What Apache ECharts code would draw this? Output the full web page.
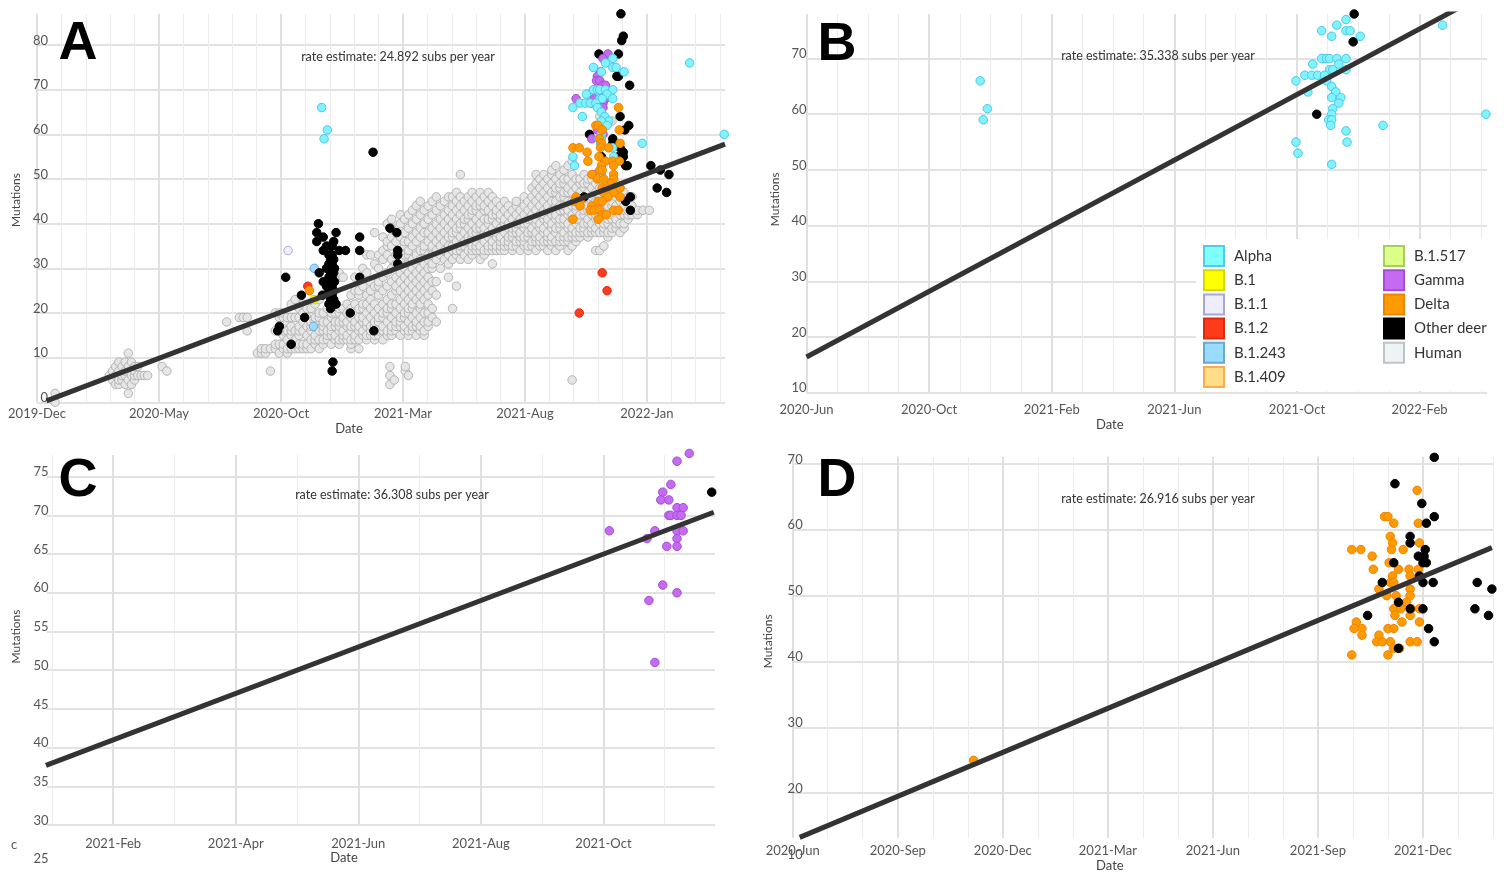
<!DOCTYPE html>
<html><head><meta charset="utf-8">
<script src="https://cdn.jsdelivr.net/npm/echarts@6.0.0/dist/echarts.min.js"></script>
<style>html,body{margin:0;padding:0;background:#fff}#c{width:1504px;height:876px}</style>
</head><body><div id="c"></div>
<script>
// ---------------- DATA ----------------
const MONTHS = ['Jan','Feb','Mar','Apr','May','Jun','Jul','Aug','Sep','Oct','Nov','Dec'];
const legendCol1 = ['Alpha','B.1','B.1.1','B.1.2','B.1.243','B.1.409'];
const legendCol2 = ['B.1.517','Gamma','Delta','Other deer','Human'];
const rateEstimates = ['24.892','35.338','36.308','26.916'];
const panelLetters = ['A','B','C','D'];

// Alpha lineage (panels A and B)
const alpha = [["2020-11-21",66],["2020-11-28",61],["2020-11-24",59],
["2021-11-19",77],["2021-11-10",76],["2021-10-26",75],["2021-11-19",75],["2021-11-23",75],["2021-11-05",74],["2021-12-03",74],
["2021-10-27",70],["2021-10-26",70],["2021-10-31",70],["2021-11-03",70],["2021-11-10",70],["2021-11-19",70],
["2021-11-12",69],["2021-10-17",69],["2021-11-03",68],["2021-11-06",68],["2021-11-19",68],
["2021-10-09",67],["2021-10-16",67],["2021-10-22",67],["2021-10-29",67],["2021-09-30",66],["2021-10-31",66],
["2021-10-12",64],["2021-11-05",65],["2021-11-09",64],["2021-11-14",63],["2021-11-05",63],["2021-11-12",62],["2021-11-06",61],
["2021-11-05",60],["2021-11-04",59],["2021-11-02",59],["2021-11-05",59],["2021-11-04",58],["2021-11-19",57],["2021-12-26",58],
["2021-09-30",55],["2021-11-20",55],["2021-10-02",53],["2021-11-05",51],["2022-02-22",76],["2022-04-06",60]];

// Gamma lineage (panels A and C)
const gamma = [["2021-11-13",78],["2021-11-07",77],["2021-11-04",74],["2021-10-31",73],["2021-10-30",72],["2021-11-03",72],
["2021-11-07",71],["2021-11-10",71],["2021-11-03",70],["2021-11-04",70],["2021-11-07",70],["2021-11-09",70],
["2021-10-04",68],["2021-10-27",68],["2021-11-07",68],["2021-11-10",68],["2021-10-23",67],["2021-11-07",67],
["2021-11-02",66],["2021-11-07",66],["2021-10-31",61],["2021-11-07",60],["2021-10-24",59],["2021-10-27",51]];

// Delta lineage (panels A and D)
const delta = [["2020-11-06",25],["2021-11-26",66],["2021-10-29",62],["2021-11-01",62],["2021-11-06",61],["2021-11-27",61],
["2021-11-03",59],["2021-11-05",58],["2021-11-28",58],["2021-09-30",57],["2021-10-08",57],["2021-11-04",57],["2021-11-14",57],
["2021-10-18",56],["2021-11-02",55],["2021-10-19",54],["2021-11-10",54],["2021-11-19",54],["2021-11-27",54],
["2021-11-05",53],["2021-11-20",53],["2021-11-03",52],["2021-11-06",52],["2021-10-24",51],["2021-11-20",51],
["2021-10-31",50],["2021-11-08",50],["2021-11-20",50],["2021-11-17",49],
["2021-11-06",48],["2021-11-12",48],["2021-11-21",48],["2021-11-28",48],["2021-11-07",47],["2021-11-20",47],
["2021-10-04",46],["2021-11-13",46],["2021-11-28",46],["2021-10-02",45],["2021-10-09",45],["2021-11-01",45],["2021-11-06",45],
["2021-10-09",44],["2021-10-24",44],["2021-10-22",43],["2021-10-27",43],["2021-11-03",43],["2021-11-20",43],["2021-11-26",43],
["2021-11-06",42],["2021-11-11",42],["2021-09-30",41],["2021-11-01",41]];

// Other deer, per panel
const otherDeerA = [["2020-09-27",16],["2020-09-29",17],["2020-10-07",28],["2020-10-14",13],["2020-10-27",24],["2020-10-31",19],
["2020-11-15",38],["2020-11-15",36],["2020-11-17",40],["2020-11-18",29],["2020-11-22",24],["2020-11-23",37],["2020-11-23",34],["2020-11-23",27],
["2020-11-27",26],["2020-11-27",30],["2020-11-27",35],["2020-11-30",22],["2020-11-30",25],["2020-11-30",28],["2020-11-30",31],["2020-11-30",33],
["2020-12-02",21],["2020-12-02",23],["2020-12-02",26],["2020-12-02",27],["2020-12-02",29],["2020-12-02",30],["2020-12-02",32],["2020-12-02",35],
["2020-12-04",24],["2020-12-04",26],["2020-12-04",28],["2020-12-04",31],["2020-12-04",33],["2020-12-04",35],["2020-12-04",7],["2020-12-05",9],
["2020-12-06",23],["2020-12-06",25],["2020-12-06",29],["2020-12-06",32],["2020-12-06",36],["2020-12-07",22],["2020-12-07",27],["2020-12-07",30],
["2020-12-09",38],["2020-12-09",22],["2020-12-13",34],["2020-12-21",34],["2020-12-27",20],
["2021-01-08",37],["2021-01-08",34],["2021-01-08",28],["2021-01-25",56],["2021-01-26",16],
["2021-02-14",39],["2021-02-22",38],["2021-02-23",34],["2021-02-23",33],["2021-02-23",31],
["2021-11-29",87],["2021-12-02",82],["2021-11-30",81],["2021-11-02",78],["2021-11-26",78],["2021-11-24",73],["2021-11-26",73],
["2021-12-10",71],["2021-11-05",67],["2021-11-28",64],["2021-12-09",62],["2021-12-04",61],["2021-10-21",60],["2021-11-19",59],
["2021-11-19",58],["2021-11-28",57],["2021-12-02",56],["2021-11-05",55],["2021-11-26",55],["2021-12-02",55],["2021-12-05",53],
["2021-12-07",53],["2022-01-06",53],["2022-01-29",51],["2022-01-18",52],["2022-01-14",48],["2022-01-26",47],["2021-12-11",46],
["2021-12-05",45],["2021-12-11",43],["2021-10-14",46]];
const otherDeerB = [["2021-11-27",78],["2021-11-26",73],["2021-10-21",60]];
const otherDeerC = [["2021-11-24",73]];
const otherDeerD = [["2021-12-11",71],["2021-11-07",67],["2021-11-30",64],["2021-12-11",62],["2021-12-04",61],["2021-11-20",59],
["2021-11-20",58],["2021-12-03",57],["2021-11-27",56],["2021-12-02",56],["2021-12-01",55],["2021-12-04",55],["2021-11-06",55],
["2021-11-28",53],["2021-10-27",52],["2021-12-01",52],["2021-12-10",52],["2021-11-10",49],["2021-11-20",48],["2021-12-01",48],
["2021-10-14",47],["2021-12-06",45],["2021-12-11",43],["2021-11-10",42],["2022-01-18",52],["2022-01-31",51],["2022-01-16",48],["2022-01-28",47]];

// Minor lineages (panel A)
const lineageB1 = [["2020-11-12",23]];
const lineageB11 = [["2020-10-10",34]];
const lineageB12 = [["2020-11-04",26],["2021-10-08",20],["2021-11-06",29],["2021-11-12",25]];
const lineageB1243 = [["2020-11-11",17],["2020-11-12",30]];
const lineageB1409 = [];
const lineageB1517 = [];

// Human genomes (panel A): [date, [mutation counts]]
const human = [
["2019-12-24",[0,2]],["2020-02-29",[6]],["2020-03-04",[5,7]],["2020-03-08",[4,6,8]],["2020-03-12",[4,5,7,9]],
["2020-03-16",[5,6,8]],["2020-03-20",[4,6,7,9]],["2020-03-24",[2,5,8,11]],["2020-03-28",[4,6,9]],["2020-04-01",[5,6,7,8]],
["2020-04-05",[6,8]],["2020-04-09",[6]],["2020-04-13",[6]],["2020-04-17",[6]],["2020-05-05",[8]],["2020-05-11",[7]],
["2020-07-25",[18]],["2020-08-10",[19]],["2020-08-15",[19]],["2020-08-20",[16,19]],
["2020-09-02",[11]],["2020-09-07",[11,12]],["2020-09-12",[11,12]],["2020-09-18",[7,12]],["2020-09-24",[12,13,16,20]],
["2020-09-29",[11,13,16,19,20]],["2020-10-04",[12,13,15,16,19,20]],["2020-10-09",[11,12,14,16,18,19]],
["2020-10-14",[12,13,15,16,17,19,22]],["2020-10-19",[12,13,14,16,19,23]],["2020-10-24",[12,13,15,16,17,19,21]],
["2020-10-29",[12,13,16,18,20,22]],["2020-11-03",[12,13,15,17,19,21]],["2020-11-08",[12,14,16,17,18,21]],
["2020-11-13",[13,14,15,17,18,19,22]],["2020-11-18",[12,14,16,19,20,23]],["2020-11-23",[13,14,16,17,18,20]],
["2020-11-28",[14,15,16,18,21]],["2020-12-03",[13,15,16,17,19,20,22]],["2020-12-08",[14,15,17,18,20,29]],
["2020-12-13",[13,14,16,17,18,20,21,28,29]],["2020-12-18",[14,15,16,18,19,21,28]],["2020-12-23",[14,15,17,18,20,22]],
["2020-12-28",[12,13,14,16,17,19,21,24]],["2021-01-02",[14,15,17,18,20,22,25,28]],["2021-01-07",[12,14,16,17,19,21,24,25]],
["2021-01-12",[15,16,18,19,21,22,26,30]],["2021-01-17",[14,15,17,18,20,22,24,29,33]],["2021-01-22",[15,16,17,19,21,23,25,27,33]],
["2021-01-27",[14,15,17,18,20,22,26,31,38]],["2021-02-01",[15,16,18,19,21,24,26,27,30,33]],
["2021-02-06",[14,16,17,19,20,22,25,28,32,34,37]],["2021-02-11",[15,16,18,20,21,23,26,29,33,35,36,40]],["2021-02-14",[4,6,8]],
["2021-02-16",[15,16,17,19,21,22,24,27,30,32,35,37,39,41]],["2021-02-19",[5]],["2021-02-21",[16,17,18,20,22,25,26,28,31,33,36,38]],
["2021-02-26",[15,17,18,19,21,23,25,27,29,32,34,37,40,42]],["2021-03-03",[16,17,19,20,22,24,26,28,30,33,35,36,38,41]],
["2021-03-04",[7,8]],["2021-03-08",[6,15,16,18,20,21,23,25,27,29,31,33,34,36,39,42]],
["2021-03-13",[16,17,19,21,22,24,26,28,30,32,35,37,40,43]],["2021-03-18",[15,17,18,20,23,25,27,29,31,33,36,38,41,44]],
["2021-03-23",[16,17,19,21,22,24,26,28,30,32,34,37,39,42,45]],["2021-03-28",[15,16,18,20,23,25,27,29,31,34,35,38,40,43]],
["2021-04-02",[17,18,20,22,24,26,28,30,32,33,36,38,41,44]],["2021-04-07",[19,21,25,27,30,31,33,35,37,39,42,45]],
["2021-04-12",[18,24,27,32,34,36,38,40,43,46]],["2021-04-17",[30,33,35,37,39,41,44]],["2021-04-22",[32,34,36,38,40,42,45]],
["2021-04-27",[28,31,33,35,37,39,41,43,46]],["2021-05-02",[21,32,34,35,37,38,40,42,44,46]],["2021-05-07",[26,33,34,36,38,39,41,43,45,47]],
["2021-05-12",[32,34,35,37,39,40,42,44,46,51]],["2021-05-17",[33,35,36,38,40,41,43,45]],["2021-05-22",[32,34,36,37,39,41,42,44,46]],
["2021-05-27",[33,34,35,37,38,40,42,43,45,47]],["2021-06-01",[34,35,36,38,39,41,43,44,46]],["2021-06-06",[32,34,35,37,39,40,42,44,45,47]],
["2021-06-11",[33,34,36,38,39,41,43,44,46]],["2021-06-16",[34,35,37,38,40,41,43,45,47]],["2021-06-21",[31,34,35,36,38,39,41,42,44,46]],
["2021-06-26",[34,35,37,38,40,42,43,45]],["2021-07-01",[34,35,36,37,39,41,42,44]],["2021-07-06",[34,35,36,38,40,41,43,45]],
["2021-07-11",[35,36,37,39,40,42,44]],["2021-07-16",[34,35,37,38,39,41,43]],["2021-07-21",[35,36,38,39,40,42,44,45]],
["2021-07-26",[34,36,37,38,40,41,43]],["2021-07-31",[35,36,37,39,40,42,44,46]],["2021-08-05",[34,35,37,38,40,41,43,45]],
["2021-08-10",[35,36,38,39,41,42,44,46,48]],["2021-08-15",[34,36,37,38,40,41,43,45,47,49,51]],["2021-08-20",[35,36,37,39,40,42,44,46,48,50]],
["2021-08-25",[35,36,38,39,41,42,43,45,47,49,51]],["2021-08-30",[34,36,37,38,40,41,43,44,46,48,50]],
["2021-09-04",[35,36,37,39,40,42,43,45,47,49,51,52]],["2021-09-09",[34,36,38,39,41,42,44,45,47,48,50,53]],
["2021-09-14",[35,36,37,39,40,41,43,44,46,48,49,51]],["2021-09-19",[36,37,38,40,41,43,44,46,47,49,50,52]],
["2021-09-24",[34,36,37,39,40,42,43,45,47,48,50,53]],["2021-09-29",[5,35,37,38,39,41,42,44,45,47,49,51,54]],
["2021-10-04",[36,37,38,40,41,43,44,46,48,50]],["2021-10-09",[37,38,39,41,42,44,45,47,49,50]],
["2021-10-14",[38,39,40,42,43,45,46,48,49,51]],["2021-10-19",[37,38,40,41,43,44,46,47,49,50,69]],
["2021-10-24",[38,39,40,42,43,45,46,48,50]],["2021-10-29",[34,38,39,41,42,44,45,47,49]],
["2021-11-03",[34,38,40,41,43,44,46,48,50,64]],["2021-11-08",[35,38,39,40,42,43,45,47,48]],
["2021-11-13",[37,38,40,41,43,44,46,47,49]],["2021-11-18",[38,39,41,42,44,45,47,63]],["2021-11-23",[39,40,41,43,44,46,47,49]],
["2021-11-28",[38,40,42,43,45,46,48]],["2021-12-03",[39,40,42,43,44,46,47]],["2021-12-08",[41,42,43,45,46]],
["2021-12-13",[42,43,44,46]],["2021-12-20",[42,43]],["2021-12-27",[43]],["2022-01-04",[43]]];

// Fitted regression lines (end points)
const fitA = [["2019-12-13",0.3],["2022-04-07",57.8]];
const fitB = [["2020-06-01",16.4],["2022-04-07",81.8]];
const fitC = [["2020-12-29",37.7],["2021-11-25",70.4]];
const fitD = [["2020-06-07",13.3],["2022-01-31",57.3]];

// ---------------- STYLE / LAYOUT ----------------
const STY = {
  'Alpha':{c:'#7ff4ff',b:'#4fc6ea'}, 'B.1':{c:'#ffff00',b:'#d6d600'}, 'B.1.1':{c:'#eeeeff',b:'#a8a8d8'},
  'B.1.2':{c:'#ff3b1e',b:'#e02a10'}, 'B.1.243':{c:'#99dcff',b:'#6aa8d4'}, 'B.1.409':{c:'#ffde88',b:'#ffaa50'},
  'B.1.517':{c:'#ddff88',b:'#a8cc60'}, 'Gamma':{c:'#c66af2',b:'#a24fd4'}, 'Delta':{c:'#ff9a00',b:'#ee8400'},
  'Other deer':{c:'#000000',b:'#000000'}, 'Human':{c:'#e6e6e6',b:'#b4b4b4'}
};
const LEG = Object.assign({}, STY, {'Human':{c:'#eef3f6',b:'#c0c4c8'}, 'Alpha':{c:'#80ffff',b:'#55c8f0'}});

const panels = [
  {o:[2019,12], left:37, top:13.8, width:688, height:388.5, xr:[0,28.2], yr:[0,87], yi:10, lab:5, ylm:-11, xlm:5.2, xng:20.2, yng:14.8, dpad:64, mpad:16,
   sets:[['Human',null],['B.1.1',lineageB11],['B.1.243',lineageB1243],['B.1',lineageB1],['B.1.2',lineageB12],['B.1.409',lineageB1409],['B.1.517',lineageB1517],
         ['Other deer',otherDeerA],['Gamma',gamma],['Alpha',alpha],['Delta',delta]], fit:fitA, letter:[78,44], rate:[398,57]},
  {o:[2020,6], left:806.5, top:14, width:680.5, height:378.7, xr:[0,22.2], yr:[10,78], yi:10, lab:4, ylm:0, xlm:10.5, xng:25.5, yng:25.2, dpad:74, mpad:8,
   sets:[['Alpha',alpha],['Other deer',otherDeerB]], fit:fitB, letter:[837,45], rate:[1158,56]},
  {o:[2021,2], left:47, top:455, width:668, height:370, xr:[-1.08,9.82], yr:[30,77.8], yi:5, lab:2, ylm:-1.6, xlm:12.5, xng:26.8, yng:24.8, dpad:74, mpad:7,
   sets:[['Gamma',gamma],['Other deer',otherDeerC]], fit:fitC, letter:[78,481], rate:[392,495]},
  {o:[2020,6], left:792.7, top:456.7, width:700.3, height:381.3, xr:[0,20], yr:[13.2,71.1], yi:10, lab:3, ylm:-10, xlm:6.8, xng:21.2, yng:18.7, dpad:66, mpad:12,
   sets:[['Delta',delta],['Other deer',otherDeerD]], fit:fitD, letter:[837,481], rate:[1158,499]}
];

function toM(s, o){ const p = s.split('-').map(Number); const dim = new Date(p[0], p[1], 0).getDate(); return (p[0]-o[0])*12 + (p[1]-o[1]) + (p[2]-1)/dim; }
function isMult(v, k){ const r = v/k; return Math.abs(r - Math.round(r)) < 1e-6; }
function monLabel(o, v){ const t = o[0]*12 + (o[1]-1) + Math.round(v); const y = Math.floor(t/12); return y + '-' + MONTHS[t - y*12]; }

const grids=[], xAxes=[], yAxes=[], series=[];
const labelColor = '#555';
const yLabelBase = {color:labelColor, fontSize:13, fontFamily:'Lato', verticalAlign:'bottom', lineHeight:9};
panels.forEach((p, i) => {
  const g = grids.length;
  grids.push({left:p.left, top:p.top, width:p.width, height:p.height, containLabel:false});
  const xi = xAxes.length;
  xAxes.push({type:'value', gridIndex:g, position:'bottom', min:p.xr[0], max:p.xr[1], minInterval:1, maxInterval:1,
    axisLine:{show:false}, axisTick:{show:false},
    splitLine:{show:true, showMinLine:isMult(p.xr[0],1), showMaxLine:isMult(p.xr[1],1), lineStyle:{color:'#ececec', width:1}},
    axisLabel:{margin:p.xlm, color:labelColor, fontSize:13, fontFamily:'Lato',
      formatter:v => (isMult(v,1) && isMult(Math.round(v), p.lab)) ? monLabel(p.o, v) : ''},
    name:'Date', nameLocation:'middle', nameGap:p.xng,
    nameTextStyle:{fontSize:13, color:'#444', fontFamily:'Lato', padding:[0,p.dpad,0,0]}});
  xAxes.push({type:'value', gridIndex:g, position:'top', min:p.xr[0], max:p.xr[1], minInterval:p.lab, maxInterval:p.lab,
    axisLine:{show:false}, axisTick:{show:false}, axisLabel:{show:false},
    splitLine:{show:true, showMinLine:isMult(p.xr[0],p.lab), showMaxLine:false, lineStyle:{color:'#e0e0e0', width:2}}});
  const yi = yAxes.length;
  yAxes.push({type:'value', gridIndex:g, min:p.yr[0], max:p.yr[1], minInterval:p.yi, maxInterval:p.yi,
    axisLine:{show:false}, axisTick:{show:false},
    splitLine:{show:true, showMinLine:isMult(p.yr[0],p.yi), showMaxLine:false, lineStyle:{color:'#e2e2e2', width:2}},
    axisLabel:Object.assign({margin:p.ylm, formatter:v => isMult(v,p.yi) ? String(Math.round(v)) : ''}, yLabelBase),
    name:'Mutations', nameLocation:'middle', nameGap:p.yng,
    nameTextStyle:{fontSize:12, color:'#444', fontFamily:'Lato', padding:[0,0,0,p.mpad]}});
  p.sets.forEach(([name, arr]) => {
    let data;
    if (name === 'Human') data = human.flatMap(([d, vs]) => vs.map(v => [toM(d, p.o), v]));
    else data = arr.map(([d, v]) => [toM(d, p.o), v]);
    const s = STY[name];
    series.push({type:'scatter', name, xAxisIndex:xi, yAxisIndex:yi, data, symbolSize:8.5, clip:false,
      itemStyle:{color:s.c, borderColor:s.b, borderWidth:1, opacity:1}, emphasis:{disabled:true}, z:2});
  });
  series.push({type:'line', name:'fit'+panelLetters[i], xAxisIndex:xi, yAxisIndex:yi,
    data:p.fit.map(([d,v]) => [toM(d,p.o), v]), symbol:'none', clip:true,
    lineStyle:{color:'#333333', width:5}, z:5, silent:true});
});

// extra label-only axes below C and D (tick labels "25" and "10" that sit under the plots)
function labelOnlyAxis(left, top, width, height, ymin, ymax, show, margin){
  const g = grids.length;
  grids.push({left, top, width, height});
  xAxes.push({type:'value', gridIndex:g, show:false, min:0, max:1});
  yAxes.push({type:'value', gridIndex:g, min:ymin, max:ymax, interval:ymin,
    axisLine:{show:false}, axisTick:{show:false}, splitLine:{show:false},
    axisLabel:Object.assign({margin, formatter:v => v===show ? String(show) : ''}, yLabelBase)});
}
labelOnlyAxis(47, 825, 668, 38.7, 25, 30, 25, -1.6);
labelOnlyAxis(792.7, 838, 700.3, 21, 10, 13.2, 10, -10);

function legendCfg(names, left){
  return {orient:'vertical', left, top:245, padding:0, itemWidth:20, itemHeight:20, itemGap:2.2, icon:'rect', selectedMode:false,
    data:names.map(n => ({name:n, itemStyle:{color:LEG[n].c, borderColor:LEG[n].b, borderWidth:2, opacity:1}})),
    textStyle:{fontSize:15, color:'#333', fontFamily:'Lato', padding:[0,0,0,5]}};
}

const graphic = [
  {type:'rect', shape:{x:1196, y:239, width:294, height:152}, style:{fill:'#ffffff'}, z:1, silent:true},
  {type:'text', x:14, y:845, style:{text:'c', font:'13px Lato', fill:'#555', align:'center', verticalAlign:'middle', textAlign:'center', textVerticalAlign:'middle'}, z:10}
];
panels.forEach((p, i) => {
  graphic.push({type:'text', x:p.letter[0], y:p.letter[1], z:10,
    style:{text:panelLetters[i], font:'bold 54px "Liberation Sans", Arial, sans-serif', fill:'#000', align:'center', verticalAlign:'middle', textAlign:'center', textVerticalAlign:'middle'}});
  graphic.push({type:'text', x:p.rate[0], y:p.rate[1], z:10,
    style:{text:'rate estimate: ' + rateEstimates[i] + ' subs per year', font:'12.5px Lato', fill:'#333', align:'center', verticalAlign:'middle', textAlign:'center', textVerticalAlign:'middle'}});
});

const chart = echarts.init(document.getElementById('c'));
chart.setOption({
  animation:false, backgroundColor:'#ffffff', textStyle:{fontFamily:'Lato'},
  grid:grids, xAxis:xAxes, yAxis:yAxes, series,
  legend:[legendCfg(legendCol1, 1203), legendCfg(legendCol2, 1383)],
  graphic
});
</script></body></html>
